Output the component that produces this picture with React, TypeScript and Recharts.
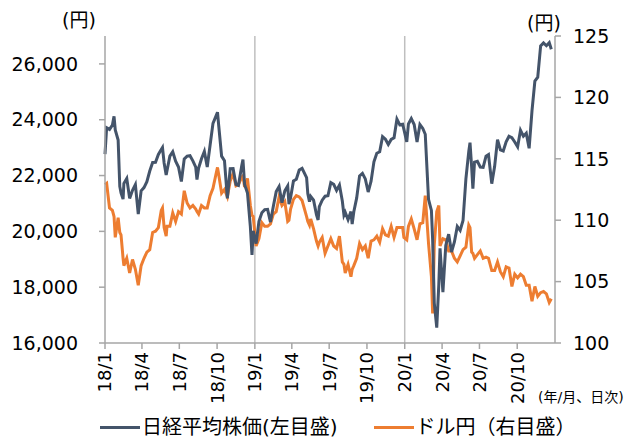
import React from 'react';
import { LineChart, Line, XAxis, YAxis, ReferenceLine } from 'recharts';

// weekly-ish closes (plus a few daily extremes)
const dates = [
  '2018-01-01', '2018-01-05', '2018-01-12', '2018-01-19', '2018-01-23', '2018-01-26',
  '2018-02-02', '2018-02-06', '2018-02-09', '2018-02-14', '2018-02-16', '2018-02-23',
  '2018-03-02', '2018-03-09', '2018-03-16', '2018-03-23', '2018-03-30',
  '2018-04-06', '2018-04-13', '2018-04-20', '2018-04-27',
  '2018-05-04', '2018-05-11', '2018-05-18', '2018-05-21', '2018-05-25', '2018-05-30',
  '2018-06-01', '2018-06-08', '2018-06-15', '2018-06-22', '2018-06-29',
  '2018-07-06', '2018-07-13', '2018-07-20', '2018-07-27',
  '2018-08-03', '2018-08-10', '2018-08-13', '2018-08-17', '2018-08-24', '2018-08-31',
  '2018-09-07', '2018-09-14', '2018-09-21', '2018-09-28',
  '2018-10-02', '2018-10-05', '2018-10-12', '2018-10-19', '2018-10-26',
  '2018-11-02', '2018-11-09', '2018-11-16', '2018-11-22', '2018-11-30',
  '2018-12-03', '2018-12-07', '2018-12-14', '2018-12-21', '2018-12-25', '2018-12-28',
  '2019-01-04', '2019-01-11', '2019-01-18', '2019-01-25',
  '2019-02-01', '2019-02-08', '2019-02-15', '2019-02-22',
  '2019-03-01', '2019-03-08', '2019-03-15', '2019-03-22', '2019-03-25', '2019-03-29',
  '2019-04-05', '2019-04-12', '2019-04-19', '2019-04-26',
  '2019-05-07', '2019-05-10', '2019-05-14', '2019-05-17', '2019-05-24', '2019-05-31',
  '2019-06-04', '2019-06-07', '2019-06-14', '2019-06-21', '2019-06-28',
  '2019-07-05', '2019-07-12', '2019-07-19', '2019-07-26',
  '2019-08-02', '2019-08-06', '2019-08-09', '2019-08-16', '2019-08-23', '2019-08-26', '2019-08-30',
  '2019-09-06', '2019-09-13', '2019-09-20', '2019-09-27',
  '2019-10-04', '2019-10-11', '2019-10-18', '2019-10-25',
  '2019-11-01', '2019-11-08', '2019-11-15', '2019-11-22', '2019-11-29',
  '2019-12-06', '2019-12-13', '2019-12-20', '2019-12-27', '2019-12-30',
  '2020-01-06', '2020-01-10', '2020-01-17', '2020-01-24', '2020-01-31',
  '2020-02-07', '2020-02-14', '2020-02-20', '2020-02-28',
  '2020-03-06', '2020-03-09', '2020-03-13', '2020-03-19', '2020-03-24', '2020-03-27',
  '2020-04-03', '2020-04-10', '2020-04-17', '2020-04-24',
  '2020-05-01', '2020-05-08', '2020-05-15', '2020-05-22', '2020-05-29',
  '2020-06-05', '2020-06-08', '2020-06-12', '2020-06-15', '2020-06-19', '2020-06-26',
  '2020-07-03', '2020-07-10', '2020-07-17', '2020-07-23', '2020-07-31',
  '2020-08-07', '2020-08-14', '2020-08-21', '2020-08-28',
  '2020-09-04', '2020-09-11', '2020-09-18', '2020-09-25',
  '2020-10-02', '2020-10-09', '2020-10-16', '2020-10-23', '2020-10-30',
  '2020-11-06', '2020-11-13', '2020-11-20', '2020-11-27',
  '2020-12-04', '2020-12-11', '2020-12-18', '2020-12-23',
];

const nikkei = [
  22765, 23714, 23653, 23808, 24124, 23632,
  23274, 21610, 21383, 21154, 21720, 21893,
  21181, 21469, 21676, 20617, 21454,
  21568, 21778, 22162, 22468,
  22472, 22758, 22930, 23002, 22450, 22018,
  22171, 22694, 22851, 22516, 22305,
  21788, 22597, 22698, 22712,
  22525, 22298, 21858, 22270, 22601, 22865,
  22307, 23094, 23870, 24120,
  24270, 23784, 22694, 22532, 21184,
  22243, 22250, 21680, 21646, 22351,
  22574, 21679, 21375, 20166, 19155, 20015,
  19561, 20360, 20666, 20774,
  20788, 20333, 20900, 21425,
  21602, 21025, 21451, 21627, 20977, 21205,
  21807, 21870, 22200, 22258,
  21923, 21344, 21067, 21250, 21117, 20601,
  20408, 20884, 21116, 21258, 21275,
  21746, 21686, 21466, 21658,
  21087, 20585, 20684, 20418, 20710, 20261, 20704,
  21199, 21988, 22079, 21879,
  21410, 21799, 22493, 22800,
  22851, 23392, 23303, 23113, 23294,
  23354, 24023, 23817, 23838, 23657,
  23204, 23850, 24041, 23827, 23205,
  23828, 23687, 23479, 21143,
  20749, 19698, 17431, 16553, 18092, 19389,
  17820, 19498, 19897, 19262,
  19619, 20179, 20037, 20388, 21878,
  22864, 23178, 22305, 21530, 22478, 22512,
  22306, 22291, 22696, 22751, 21710,
  22329, 23289, 22920, 22882,
  23205, 23406, 23360, 23204,
  23029, 23619, 23410, 23516, 22977,
  24325, 25385, 25527, 26644,
  26751, 26652, 26763, 26524,
];

const usdjpy = [
  112.9, 113.0, 111.0, 110.8, 110.3, 108.6,
  110.2, 109.0, 108.8, 106.9, 106.3, 106.9,
  105.7, 106.8, 106.0, 104.7, 106.3,
  106.9, 107.4, 107.6, 109.0,
  109.1, 109.4, 110.8, 111.0, 109.4, 108.7,
  109.5, 109.5, 110.6, 109.9, 110.7,
  110.5, 112.4, 111.4, 111.0,
  111.2, 110.9, 110.7, 110.5, 111.2, 111.0,
  111.0, 112.0, 112.6, 113.7,
  114.3, 113.7, 112.2, 112.5, 111.9,
  113.2, 113.8, 112.8, 112.9, 113.5,
  113.6, 112.7, 113.4, 111.2, 110.4, 110.3,
  107.9, 108.5, 109.8, 109.5,
  109.5, 109.7, 110.5, 110.7,
  111.9, 111.2, 111.5, 109.9, 110.0, 110.9,
  111.7, 112.0, 111.9, 111.6,
  110.3, 109.9, 109.6, 110.1, 109.3, 108.3,
  107.9, 108.2, 108.6, 107.3, 107.9,
  108.5, 107.9, 107.7, 108.7,
  106.6, 106.4, 105.7, 106.4, 105.4, 106.0, 106.3,
  106.9, 108.1, 107.6, 107.9,
  106.9, 108.3, 108.4, 108.7,
  108.2, 109.3, 108.8, 108.7, 109.5,
  108.6, 109.4, 109.4, 109.4, 108.6,
  108.4, 109.5, 110.1, 109.3, 108.4,
  109.7, 109.8, 112.0, 108.1,
  105.4, 102.4, 108.0, 110.7, 111.2, 107.9,
  108.5, 108.4, 107.5, 107.5,
  106.9, 106.6, 107.1, 107.6, 107.8,
  109.6, 109.4, 107.4, 107.3, 106.9, 107.2,
  107.5, 106.9, 107.0, 106.9, 105.9,
  105.9, 106.6, 105.8, 105.4,
  106.2, 106.1, 104.6, 105.6,
  105.3, 105.6, 105.4, 104.7, 104.7,
  103.4, 104.6, 103.8, 104.1,
  104.2, 104.0, 103.3, 103.6,
];

const xTickDates = [
  '2018-01-01', '2018-04-01', '2018-07-01', '2018-10-01',
  '2019-01-01', '2019-04-01', '2019-07-01', '2019-10-01',
  '2020-01-01', '2020-04-01', '2020-07-01', '2020-10-01',
];
const yearLines = ['2019-01-01', '2020-01-01'];
const leftTicks = [16000, 18000, 20000, 22000, 24000, 26000];
const rightTicks = [100, 105, 110, 115, 120, 125];

const toT = (d: string) => new Date(d + 'T00:00:00Z').getTime();

const data = dates.map((d, i) => ({ t: toT(d), nikkei: nikkei[i], usdjpy: usdjpy[i] }));

const NAVY = '#44546A';
const ORANGE = '#ED7D31';
const AXIS = '#A6A6A6';
const FONT = '"DejaVu Sans", "Noto Sans CJK JP", sans-serif';

const fmtDate = (t: number) => {
  const d = new Date(t);
  return `${String(d.getUTCFullYear()).slice(2)}/${d.getUTCMonth() + 1}`;
};

const RotatedTick = ({ x, y, payload }: any) => (
  <text
    x={x}
    y={y + 1}
    transform={`rotate(-90, ${x}, ${y + 1})`}
    textAnchor="end"
    dy="0.36em"
    fontSize={18}
    fontFamily={FONT}
    fill="#000"
  >
    {fmtDate(payload.value)}
  </text>
);

export default function App() {
  return (
    <div style={{ position: 'absolute', left: 0, top: 0, width: 629, height: 439, background: '#fff', fontFamily: FONT }}>
      <LineChart width={629} height={439} data={data} margin={{ top: 36, right: 0, left: 0, bottom: 36 }}>
        <XAxis
          dataKey="t"
          type="number"
          scale="time"
          domain={[toT('2018-01-01'), toT('2021-01-01')]}
          ticks={xTickDates.map(toT)}
          tick={<RotatedTick />}
          tickLine={{ stroke: AXIS, strokeWidth: 1.5 }}
          axisLine={{ stroke: AXIS, strokeWidth: 1.5 }}
          tickSize={6}
          tickMargin={2}
          height={60}
          interval={0}
        />
        <YAxis
          yAxisId="left"
          domain={[16000, 27000]}
          ticks={leftTicks}
          tickFormatter={(v: number) => v.toLocaleString('en-US')}
          tick={{ fontSize: 19, fill: '#000', fontFamily: FONT }}
          tickLine={{ stroke: AXIS, strokeWidth: 1.5 }}
          axisLine={{ stroke: AXIS, strokeWidth: 1.5 }}
          tickSize={6}
          tickMargin={21}
          width={105}
          interval={0}
        />
        <YAxis
          yAxisId="right"
          orientation="right"
          domain={[100, 125]}
          ticks={rightTicks}
          tick={{ fontSize: 19, fill: '#000', fontFamily: FONT }}
          tickLine={{ stroke: AXIS, strokeWidth: 1.5 }}
          axisLine={{ stroke: AXIS, strokeWidth: 1.5 }}
          tickSize={6}
          tickMargin={12}
          width={74}
          interval={0}
        />
        {yearLines.map((d) => (
          <ReferenceLine key={d} x={toT(d)} yAxisId="left" stroke="#BFBFBF" strokeWidth={1.5} />
        ))}
        <Line
          yAxisId="right"
          type="linear"
          dataKey="usdjpy"
          stroke={ORANGE}
          strokeWidth={3}
          dot={false}
          isAnimationActive={false}
        />
        <Line
          yAxisId="left"
          type="linear"
          dataKey="nikkei"
          stroke={NAVY}
          strokeWidth={3}
          dot={false}
          isAnimationActive={false}
        />
      </LineChart>

      <div style={{ position: 'absolute', left: 62, top: 5, fontSize: 19 }}>(円)</div>
      <div style={{ position: 'absolute', left: 527, top: 8, fontSize: 19 }}>(円)</div>
      <div style={{ position: 'absolute', left: 538, top: 386, fontSize: 14 }}>(年/月、日次)</div>

      <div style={{ position: 'absolute', left: 100, top: 417, display: 'flex', alignItems: 'center', fontSize: 20, lineHeight: '20px', whiteSpace: 'nowrap' }}>
        <span style={{ display: 'inline-block', width: 40, height: 3, background: NAVY, marginRight: 2 }} />
        <span>日経平均株価(左目盛)</span>
        <span style={{ display: 'inline-block', width: 40, height: 3, background: ORANGE, marginLeft: 36, marginRight: 2 }} />
        <span>ドル円（右目盛）</span>
      </div>
    </div>
  );
}
